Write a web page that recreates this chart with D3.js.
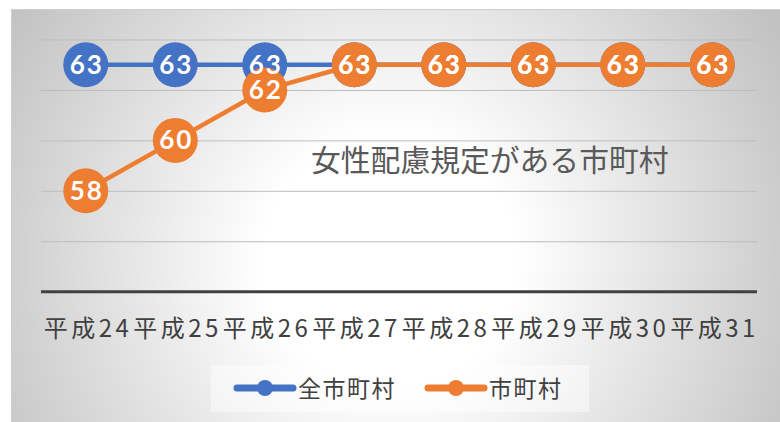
<!DOCTYPE html>
<html>
<head>
<meta charset="utf-8">
<script src="https://cdn.jsdelivr.net/npm/d3@7/dist/d3.min.js"></script>
<style>
  html, body { margin: 0; padding: 0; background: #fff; }
  svg { display: block; }
</style>
</head>
<body>
<svg id="chart" width="780" height="422"></svg>
<script>
// Fiscal years (Heisei era)
const categories = ["平成24", "平成25", "平成26", "平成27", "平成28", "平成29", "平成30", "平成31"];
// Number of municipalities
const allMunicipalities = [63, 63, 63, 63, 63, 63, 63, 63];
const withProvision = [58, 60, 62, 63, 63, 63, 63, 63];
const seriesNames = ["全市町村", "市町村"];
const yTicks = [54, 56, 58, 60, 62, 64];
const annotation = "女性配慮規定がある市町村";

const colors = ["#4472C4", "#ED7D31"];
const svg = d3.select("#chart");
const W = 780, H = 422;

// background panel with soft radial shading
const defs = svg.append("defs");
const grad = defs.append("radialGradient")
  .attr("id", "bg")
  .attr("gradientUnits", "userSpaceOnUse")
  .attr("cx", 390).attr("cy", 260).attr("r", 450);
grad.append("stop").attr("offset", 0).attr("stop-color", "#ffffff");
grad.append("stop").attr("offset", 0.28).attr("stop-color", "#ffffff");
grad.append("stop").attr("offset", 1).attr("stop-color", "#c2c2c2");

svg.append("rect")
  .attr("x", 11.5).attr("y", 9.5)
  .attr("width", W).attr("height", H)
  .attr("fill", "url(#bg)")
  .attr("stroke", "#cfcfcf").attr("stroke-width", 1);

const x = d3.scalePoint().domain(categories).range([41, 757]).padding(0.5);
const y = d3.scaleLinear().domain([54, 64]).range([291.7, 39.5]);

// horizontal gridlines
const gridAxis = d3.axisLeft(y).tickValues(yTicks.slice(1)).tickSize(-(757 - 41)).tickFormat("");
const g = svg.append("g").attr("transform", "translate(41,0)").call(gridAxis);
g.select(".domain").remove();
g.selectAll(".tick line").attr("stroke", "#bdbdbd").attr("stroke-width", 1);

// category axis
const xAxis = d3.axisBottom(x).tickSize(0).tickPadding(0);
const xg = svg.append("g").attr("transform", `translate(0,${y(54)})`).call(xAxis);
xg.select(".domain").remove();
xg.selectAll(".tick text")
  .attr("dy", null).attr("y", 45)
  .attr("font-family", "'Noto Sans CJK JP', sans-serif")
  .attr("font-size", 24)
  .attr("fill", "#404040")
  .attr("textLength", 85)
  .attr("lengthAdjust", "spacing");
svg.append("line")
  .attr("x1", 41).attr("x2", 757)
  .attr("y1", y(54)).attr("y2", y(54))
  .attr("stroke", "#404040").attr("stroke-width", 3);

// annotation text
svg.append("text")
  .attr("x", 311).attr("y", 171)
  .attr("font-family", "'Noto Sans CJK JP', sans-serif")
  .attr("font-size", 29.8)
  .attr("fill", "#595959")
  .text(annotation);

const series = [allMunicipalities, withProvision];
const line = d3.line().x((d, i) => x(categories[i])).y(d => y(d));

series.forEach((vals, s) => {
  const sg = svg.append("g");
  sg.append("path")
    .attr("d", line(vals))
    .attr("fill", "none")
    .attr("stroke", colors[s])
    .attr("stroke-width", 4.5)
    .attr("stroke-linejoin", "round");
  sg.selectAll("circle").data(vals).join("circle")
    .attr("cx", (d, i) => x(categories[i]))
    .attr("cy", d => y(d))
    .attr("r", 22.5)
    .attr("fill", colors[s]);
});

// data labels on top
series.forEach((vals, s) => {
  svg.append("g").selectAll("text").data(vals).join("text")
    .attr("x", (d, i) => x(categories[i]) + 1)
    .attr("y", d => y(d) + 9)
    .attr("text-anchor", "middle")
    .attr("font-family", "Lato, 'Noto Sans', sans-serif")
    .attr("font-weight", "bold")
    .attr("font-size", 26)
    .attr("letter-spacing", 2)
    .attr("fill", "#ffffff")
    .text(d => d);
});

// legend
svg.append("rect")
  .attr("x", 211).attr("y", 365).attr("width", 378).attr("height", 47)
  .attr("fill", "#ffffff").attr("opacity", 0.45);
const legendX = [237, 428];
seriesNames.forEach((name, s) => {
  const lg = svg.append("g").attr("transform", `translate(${legendX[s]},388)`);
  lg.append("line").attr("x1", 0).attr("x2", 56).attr("y1", 0).attr("y2", 0)
    .attr("stroke", colors[s]).attr("stroke-width", 7).attr("stroke-linecap", "round");
  lg.append("circle").attr("cx", 28).attr("cy", 0).attr("r", 8).attr("fill", colors[s]);
  lg.append("text").attr("x", 61).attr("y", 8.5)
    .attr("font-family", "'Noto Sans CJK JP', sans-serif")
    .attr("font-size", 23)
    .attr("letter-spacing", 1.5)
    .attr("fill", "#404040")
    .text(name);
});
</script>
</body>
</html>
